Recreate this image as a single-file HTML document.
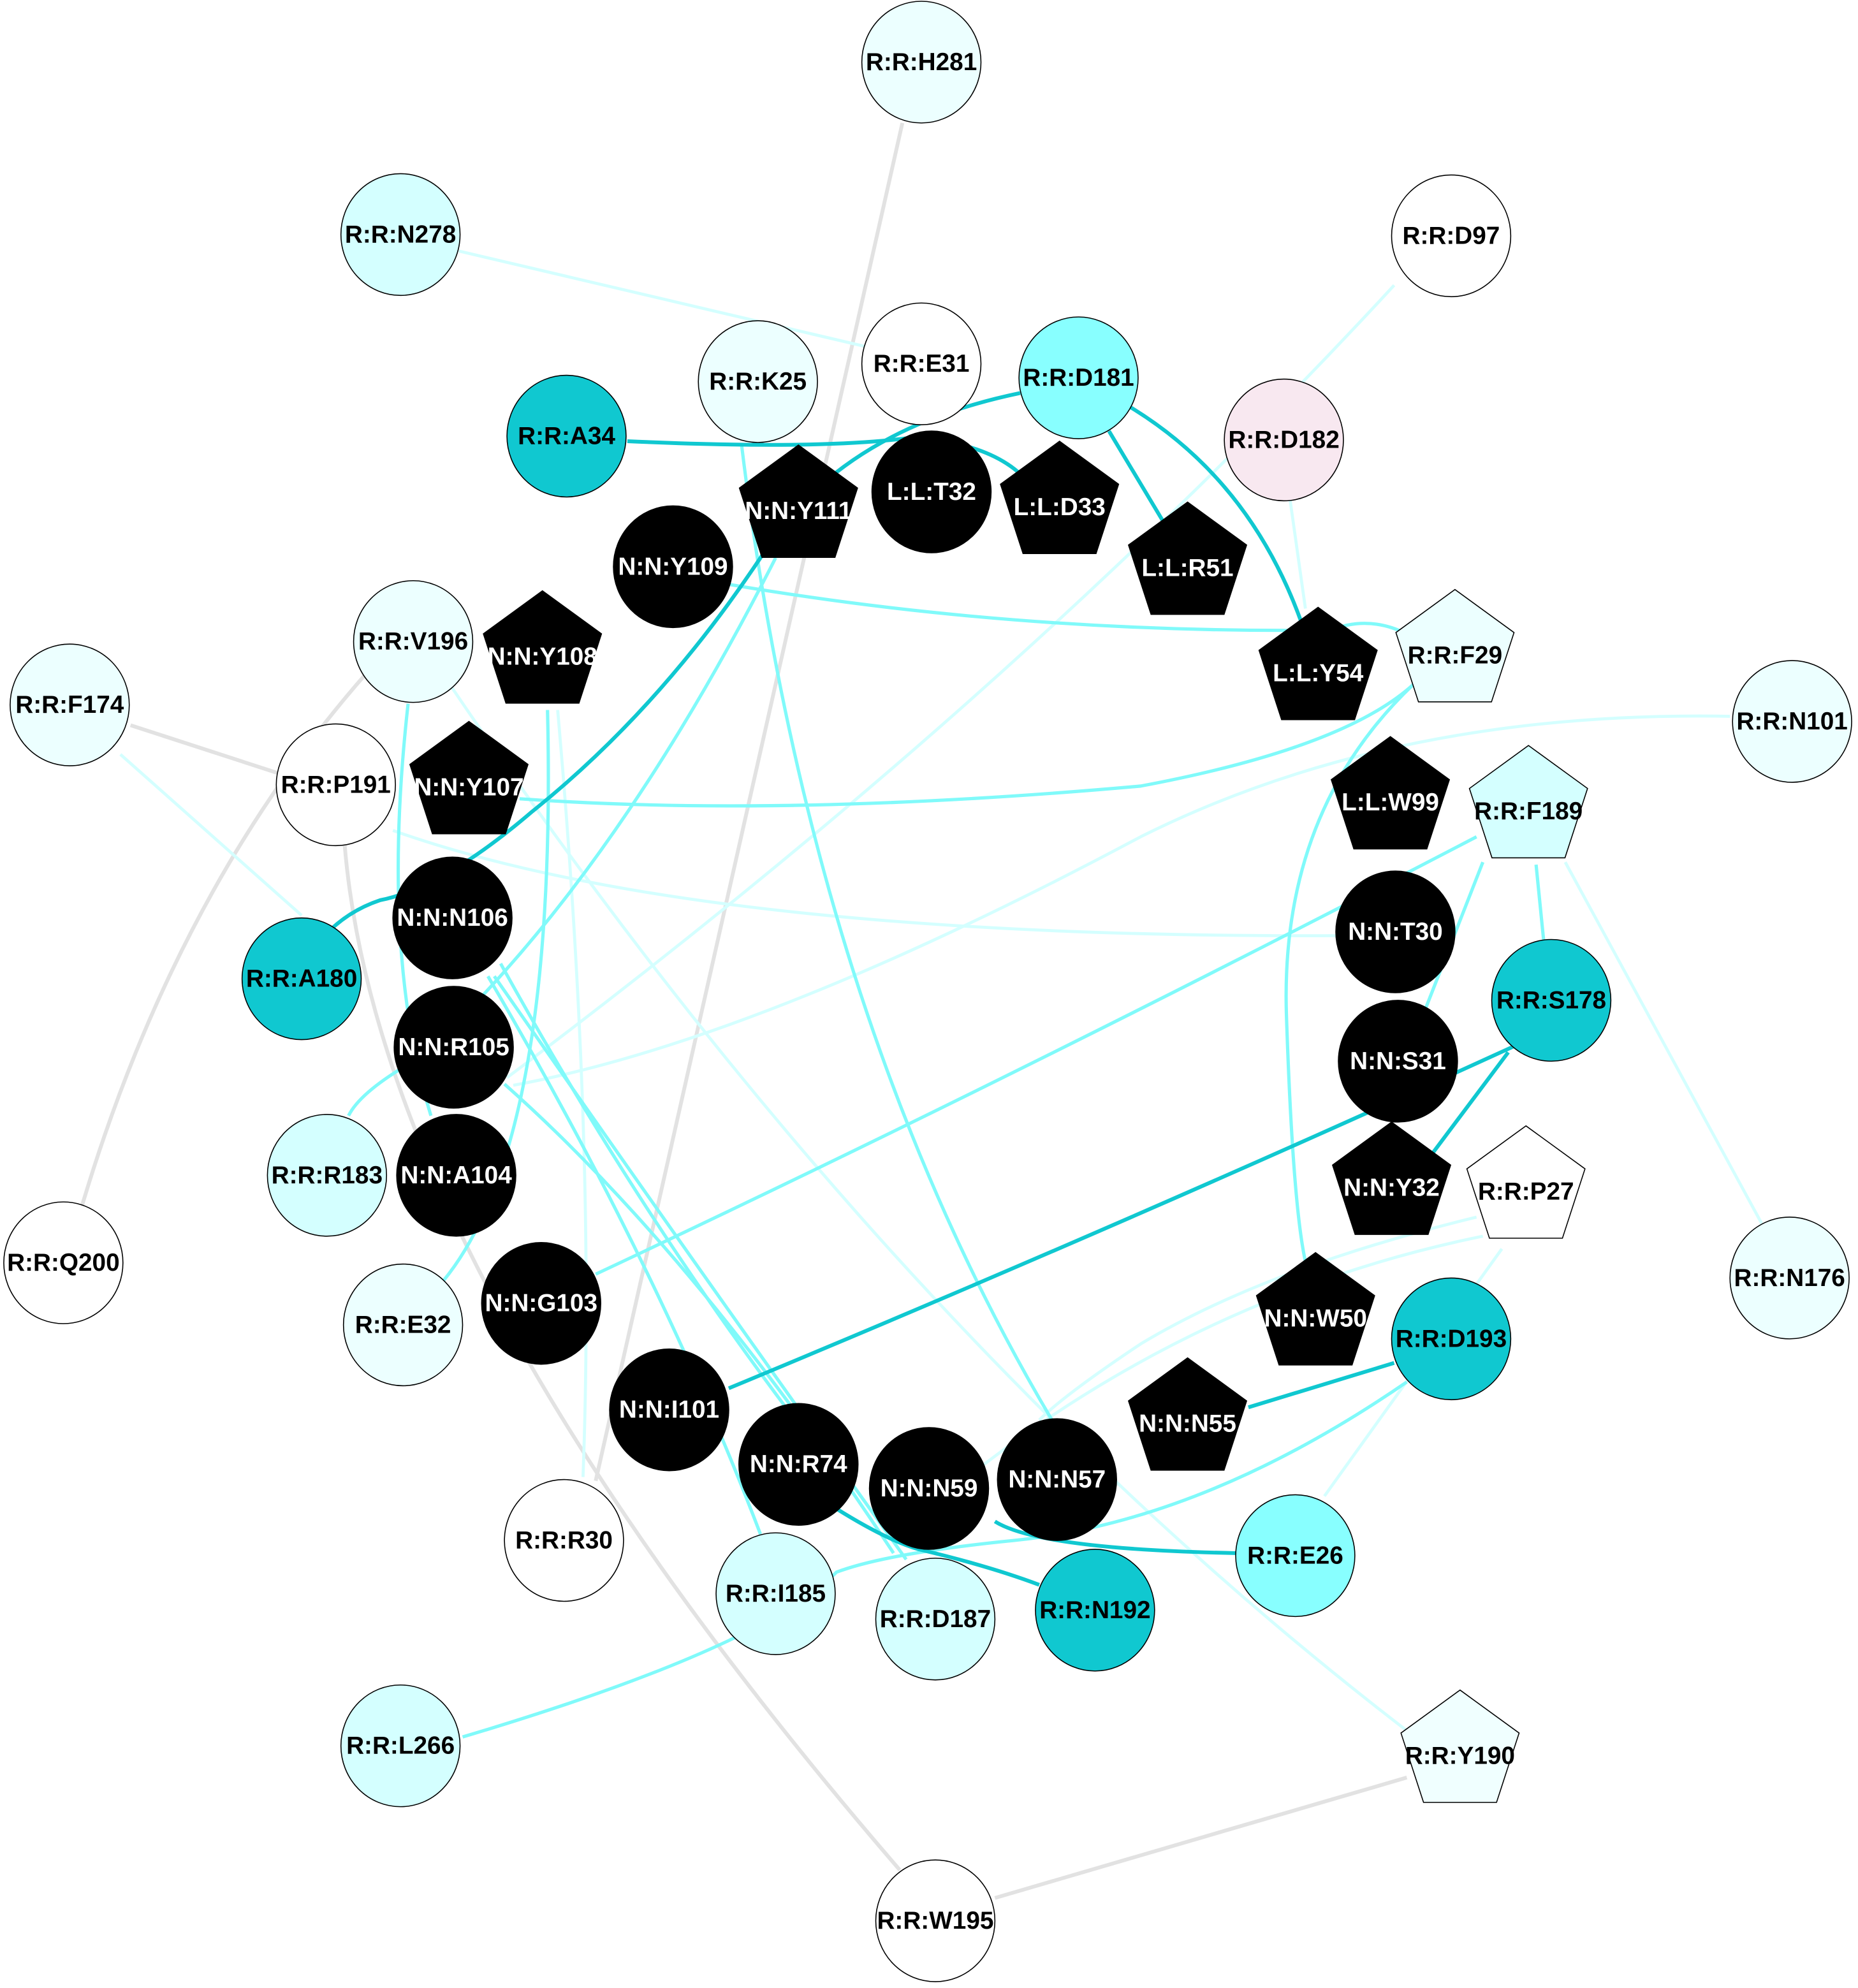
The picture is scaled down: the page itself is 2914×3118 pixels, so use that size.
<!DOCTYPE html>
<html><head><meta charset="utf-8"><style>
html,body{margin:0;padding:0;background:#fff;}
svg{display:block;}
text{font-family:"Liberation Sans Narrow","Liberation Sans",sans-serif;font-weight:bold;font-size:19.5px;text-anchor:middle;dominant-baseline:central;}
.w{fill:#fff}.k{fill:#000}
.n{stroke:#000;stroke-width:0.8}
.e{fill:none}
.d{stroke:#10c8d0;stroke-width:3}
.m{stroke:#80fafa;stroke-width:2.6}
.l{stroke:#d4ffff;stroke-width:2.4}
.g{stroke:#e2e2e2;stroke-width:3}
</style></head><body>
<svg width="2914" height="3118" viewBox="0 0 1466 1568" preserveAspectRatio="none" xmlns="http://www.w3.org/2000/svg">
<rect width="1466" height="1568" fill="#fff"/>
<g class="e">
<path class="g" d="M712,97 Q620,500 470,1168"/>
<path class="g" d="M290,530 Q140,700 65,950"/>
<path class="g" d="M103,572 L220,610"/>
<path class="g" d="M272,667 Q300,1000 710,1475"/>
<path class="g" d="M1110,1402 L785,1497"/>
<path class="l" d="M362,198 L690,275"/>
<path class="l" d="M1018,395 L1030,480"/>
<path class="l" d="M1100,225 Q800,550 400,850"/>
<path class="l" d="M1365,565 Q1100,560 900,660 Q600,820 405,856"/>
<path class="l" d="M310,655 Q550,740 1055,738"/>
<path class="l" d="M355,540 Q700,1050 1110,1365"/>
<path class="l" d="M95,595 L238,722"/>
<path class="l" d="M1165,960 Q1000,1000 900,1060 Q840,1100 820,1120"/>
<path class="l" d="M1170,975 Q950,1020 770,1160"/>
<path class="l" d="M1185,985 L1045,1180"/>
<path class="l" d="M440,560 Q470,900 460,1165"/>
<path class="l" d="M1235,680 L1390,965"/>
<path class="m" d="M570,460 Q800,500 1050,497 Q1080,485 1110,500"/>
<path class="m" d="M410,630 Q620,645 900,620 Q1060,590 1115,540"/>
<path class="m" d="M612,440 Q480,700 330,835 Q285,860 275,880"/>
<path class="m" d="M585,350 Q640,800 830,1120"/>
<path class="m" d="M1115,540 Q1010,640 1015,800 Q1020,950 1030,995"/>
<path class="m" d="M1170,680 L1125,795"/>
<path class="m" d="M1212,682 L1218,742"/>
<path class="m" d="M1165,660 Q800,850 470,1005"/>
<path class="m" d="M395,760 Q500,950 620,1110"/>
<path class="m" d="M390,770 Q550,1000 715,1230"/>
<path class="m" d="M385,770 Q520,1000 600,1210"/>
<path class="m" d="M398,855 Q550,990 705,1225"/>
<path class="m" d="M322,555 Q300,750 340,880"/>
<path class="m" d="M432,560 Q440,900 350,1010"/>
<path class="m" d="M365,1370 Q600,1300 660,1240 Q700,1225 800,1215 Q950,1200 1110,1090"/>
<path class="d" d="M495,348 Q650,355 720,345 Q790,350 815,385"/>
<path class="d" d="M805,310 Q660,340 600,440 Q520,560 420,640 Q350,700 300,710 Q270,720 250,745"/>
<path class="d" d="M875,340 L920,415"/>
<path class="d" d="M890,320 Q990,380 1030,500"/>
<path class="d" d="M1195,825 Q900,960 575,1095"/>
<path class="d" d="M1190,830 L1130,910"/>
<path class="d" d="M1100,1075 L985,1110"/>
<path class="d" d="M660,1190 Q700,1215 725,1222 Q780,1235 820,1250"/>
<path class="d" d="M785,1200 Q820,1222 975,1225"/>
</g>
<g class="n">
<ellipse cx="727" cy="49" rx="47" ry="48" fill="#ecffff"/>
<ellipse cx="316" cy="185" rx="47" ry="48" fill="#d4ffff"/>
<ellipse cx="1145" cy="186" rx="47" ry="48" fill="#fff"/>
<ellipse cx="598" cy="301" rx="47" ry="48" fill="#ecffff"/>
<ellipse cx="727" cy="287" rx="47" ry="48" fill="#fff"/>
<ellipse cx="851" cy="298" rx="47" ry="48" fill="#88ffff"/>
<ellipse cx="447" cy="344" rx="47" ry="48" fill="#10c8d0"/>
<ellipse cx="1013" cy="347" rx="47" ry="48" fill="#f8e8f0"/>
<ellipse cx="735" cy="388" rx="47" ry="48" fill="#000"/>
<ellipse cx="531" cy="447" rx="47" ry="48" fill="#000"/>
<ellipse cx="326" cy="506" rx="47" ry="48" fill="#ecffff"/>
<ellipse cx="55" cy="556" rx="47" ry="48" fill="#ecffff"/>
<ellipse cx="265" cy="619" rx="47" ry="48" fill="#fff"/>
<ellipse cx="1414" cy="569" rx="47" ry="48" fill="#ecffff"/>
<ellipse cx="357" cy="724" rx="47" ry="48" fill="#000"/>
<ellipse cx="238" cy="772" rx="47" ry="48" fill="#10c8d0"/>
<ellipse cx="1101" cy="735" rx="47" ry="48" fill="#000"/>
<ellipse cx="1224" cy="789" rx="47" ry="48" fill="#10c8d0"/>
<ellipse cx="358" cy="826" rx="47" ry="48" fill="#000"/>
<ellipse cx="1103" cy="837" rx="47" ry="48" fill="#000"/>
<ellipse cx="258" cy="927" rx="47" ry="48" fill="#d4ffff"/>
<ellipse cx="360" cy="927" rx="47" ry="48" fill="#000"/>
<ellipse cx="50" cy="996" rx="47" ry="48" fill="#fff"/>
<ellipse cx="1412" cy="1008" rx="47" ry="48" fill="#ecffff"/>
<ellipse cx="427" cy="1028" rx="47" ry="48" fill="#000"/>
<ellipse cx="318" cy="1045" rx="47" ry="48" fill="#ecffff"/>
<ellipse cx="1145" cy="1056" rx="47" ry="48" fill="#10c8d0"/>
<ellipse cx="528" cy="1112" rx="47" ry="48" fill="#000"/>
<ellipse cx="630" cy="1155" rx="47" ry="48" fill="#000"/>
<ellipse cx="733" cy="1174" rx="47" ry="48" fill="#000"/>
<ellipse cx="834" cy="1167" rx="47" ry="48" fill="#000"/>
<ellipse cx="445" cy="1215" rx="47" ry="48" fill="#fff"/>
<ellipse cx="612" cy="1257" rx="47" ry="48" fill="#d4ffff"/>
<ellipse cx="738" cy="1277" rx="47" ry="48" fill="#d4ffff"/>
<ellipse cx="864" cy="1270" rx="47" ry="48" fill="#10c8d0"/>
<ellipse cx="1022" cy="1227" rx="47" ry="48" fill="#88ffff"/>
<ellipse cx="316" cy="1377" rx="47" ry="48" fill="#d4ffff"/>
<ellipse cx="738" cy="1515" rx="47" ry="48" fill="#fff"/>
</g>
<g class="n">
<polygon transform="translate(630,400)" points="0,-49 46.6,-15.1 28.8,39.6 -28.8,39.6 -46.6,-15.1" fill="#000"/>
<polygon transform="translate(836,397)" points="0,-49 46.6,-15.1 28.8,39.6 -28.8,39.6 -46.6,-15.1" fill="#000"/>
<polygon transform="translate(937,445)" points="0,-49 46.6,-15.1 28.8,39.6 -28.8,39.6 -46.6,-15.1" fill="#000"/>
<polygon transform="translate(428,515)" points="0,-49 46.6,-15.1 28.8,39.6 -28.8,39.6 -46.6,-15.1" fill="#000"/>
<polygon transform="translate(1040,528)" points="0,-49 46.6,-15.1 28.8,39.6 -28.8,39.6 -46.6,-15.1" fill="#000"/>
<polygon transform="translate(1148,514)" points="0,-49 46.6,-15.1 28.8,39.6 -28.8,39.6 -46.6,-15.1" fill="#ecffff"/>
<polygon transform="translate(370,618)" points="0,-49 46.6,-15.1 28.8,39.6 -28.8,39.6 -46.6,-15.1" fill="#000"/>
<polygon transform="translate(1097,630)" points="0,-49 46.6,-15.1 28.8,39.6 -28.8,39.6 -46.6,-15.1" fill="#000"/>
<polygon transform="translate(1206,637)" points="0,-49 46.6,-15.1 28.8,39.6 -28.8,39.6 -46.6,-15.1" fill="#d4ffff"/>
<polygon transform="translate(1098,934)" points="0,-49 46.6,-15.1 28.8,39.6 -28.8,39.6 -46.6,-15.1" fill="#000"/>
<polygon transform="translate(1204,937)" points="0,-49 46.6,-15.1 28.8,39.6 -28.8,39.6 -46.6,-15.1" fill="#fff"/>
<polygon transform="translate(1038,1037)" points="0,-49 46.6,-15.1 28.8,39.6 -28.8,39.6 -46.6,-15.1" fill="#000"/>
<polygon transform="translate(937,1120)" points="0,-49 46.6,-15.1 28.8,39.6 -28.8,39.6 -46.6,-15.1" fill="#000"/>
<polygon transform="translate(1152,1382)" points="0,-49 46.6,-15.1 28.8,39.6 -28.8,39.6 -46.6,-15.1" fill="#f0ffff"/>
</g>
<g class="k">
<text x="727" y="49">R:R:H281</text>
<text x="316" y="185">R:R:N278</text>
<text x="1145" y="186">R:R:D97</text>
<text x="598" y="301">R:R:K25</text>
<text x="727" y="287">R:R:E31</text>
<text x="851" y="298">R:R:D181</text>
<text x="447" y="344">R:R:A34</text>
<text x="1013" y="347">R:R:D182</text>
<text x="326" y="506">R:R:V196</text>
<text x="55" y="556">R:R:F174</text>
<text x="265" y="619">R:R:P191</text>
<text x="1414" y="569">R:R:N101</text>
<text x="238" y="772">R:R:A180</text>
<text x="1224" y="789">R:R:S178</text>
<text x="258" y="927">R:R:R183</text>
<text x="50" y="996">R:R:Q200</text>
<text x="1412" y="1008">R:R:N176</text>
<text x="318" y="1045">R:R:E32</text>
<text x="1145" y="1056">R:R:D193</text>
<text x="445" y="1215">R:R:R30</text>
<text x="612" y="1257">R:R:I185</text>
<text x="738" y="1277">R:R:D187</text>
<text x="864" y="1270">R:R:N192</text>
<text x="1022" y="1227">R:R:E26</text>
<text x="316" y="1377">R:R:L266</text>
<text x="738" y="1515">R:R:W195</text>
<text x="1148" y="517">R:R:F29</text>
<text x="1206" y="640">R:R:F189</text>
<text x="1204" y="940">R:R:P27</text>
<text x="1152" y="1385">R:R:Y190</text>
</g>
<g class="w">
<text x="735" y="388">L:L:T32</text>
<text x="531" y="447">N:N:Y109</text>
<text x="357" y="724">N:N:N106</text>
<text x="1101" y="735">N:N:T30</text>
<text x="358" y="826">N:N:R105</text>
<text x="1103" y="837">N:N:S31</text>
<text x="360" y="927">N:N:A104</text>
<text x="427" y="1028">N:N:G103</text>
<text x="528" y="1112">N:N:I101</text>
<text x="630" y="1155">N:N:R74</text>
<text x="733" y="1174">N:N:N59</text>
<text x="834" y="1167">N:N:N57</text>
<text x="630" y="403">N:N:Y111</text>
<text x="836" y="400">L:L:D33</text>
<text x="937" y="448">L:L:R51</text>
<text x="428" y="518">N:N:Y108</text>
<text x="1040" y="531">L:L:Y54</text>
<text x="370" y="621">N:N:Y107</text>
<text x="1097" y="633">L:L:W99</text>
<text x="1098" y="937">N:N:Y32</text>
<text x="1038" y="1040">N:N:W50</text>
<text x="937" y="1123">N:N:N55</text>
</g>
</svg>
</body></html>
